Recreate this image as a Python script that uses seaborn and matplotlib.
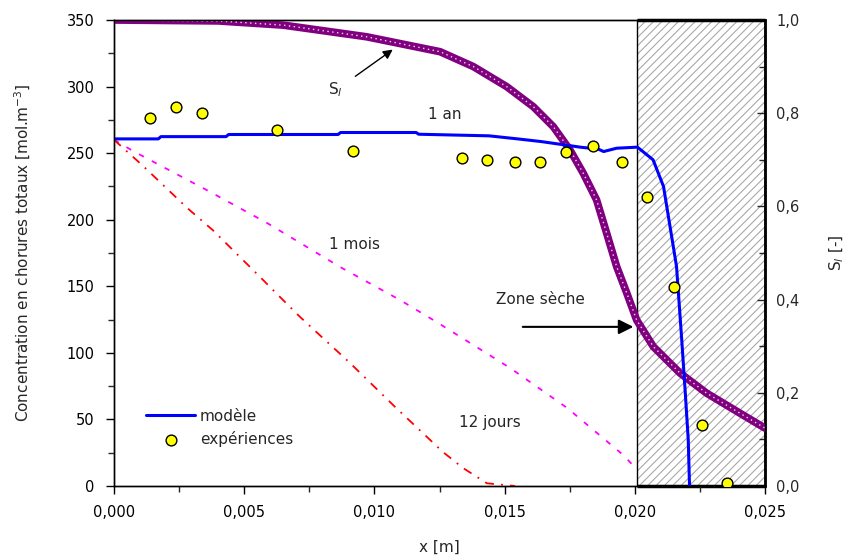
import matplotlib
matplotlib.use("Agg")
import matplotlib.pyplot as plt
from matplotlib.patches import Rectangle
from matplotlib.ticker import FuncFormatter, MultipleLocator
import seaborn as sns
import pandas as pd

# ---- data ----
x_model = [0.0, 0.0017, 0.0018, 0.0043, 0.0044, 0.0086, 0.0087, 0.0116, 0.0117,
           0.0144, 0.0155, 0.0164, 0.0173, 0.0179, 0.0186, 0.0188, 0.0193, 0.0201,
           0.0207, 0.0211, 0.02135, 0.0216, 0.0218, 0.02193, 0.02205, 0.0221]
c_model = [260.7, 260.7, 262.4, 262.4, 264.0, 264.0, 265.5, 265.5, 264.2,
           263.0, 260.7, 258.7, 256.2, 254.5, 253.0, 251.2, 253.7, 254.5,
           245.0, 225.0, 195.0, 165.0, 110.0, 72.0, 35.0, 0.0]

x_exp = [0.00138, 0.00238, 0.00338, 0.00626, 0.00918, 0.01336, 0.01431, 0.0154,
         0.01636, 0.01736, 0.01841, 0.0195, 0.02046, 0.02152, 0.02257, 0.02354]
c_exp = [276.5, 284.7, 280.0, 267.5, 251.7, 246.4, 245.0, 243.2,
         243.2, 251.2, 255.4, 243.7, 216.9, 149.7, 45.8, 2.0]

x_mois = [0.0, 0.00073, 0.00369, 0.00587, 0.00868, 0.01098, 0.0124, 0.01521,
          0.0174, 0.01955, 0.0201]
c_mois = [260.0, 251.6, 220.9, 197.6, 164.5, 139.7, 123.0, 88.6, 58.6, 23.3, 12.0]

x_jours = [0.0, 0.00108, 0.0028, 0.0038, 0.00553, 0.00637, 0.00714, 0.00906,
           0.01079, 0.01263, 0.0134, 0.01432, 0.0154]
c_jours = [260.0, 241.0, 209.0, 192.0, 158.5, 142.0, 127.0, 92.4,
           59.4, 25.5, 13.5, 2.0, 0.0]

x_sl = [0.0, 0.004, 0.0065, 0.0097, 0.01252, 0.0138, 0.01508, 0.0161, 0.01687,
        0.01751, 0.01802, 0.01853, 0.01892, 0.0193, 0.01969, 0.02007, 0.02071,
        0.02174, 0.02276, 0.02404, 0.025]
s_l = [1.0, 0.998, 0.989, 0.964, 0.932, 0.900, 0.857, 0.814, 0.771,
       0.721, 0.671, 0.614, 0.542, 0.471, 0.414, 0.356, 0.299,
       0.242, 0.199, 0.156, 0.124]

dry_zone = (0.0201, 0.025)

# ---- figure ----
sns.set_style("ticks")
plt.rcParams['font.family'] = ['DejaVu Sans']
plt.rcParams['hatch.linewidth'] = 0.8

fig = plt.figure(figsize=(8.51, 5.56), dpi=100)
ax = fig.add_axes([0.134, 0.126, 0.765, 0.838])
ax2 = ax.twinx()
ax.set_zorder(ax2.get_zorder() + 1)
ax.patch.set_visible(False)

ax.set_xlim(0, 0.025)
ax.set_ylim(0, 350)
ax2.set_ylim(0, 1.0)

# dry zone hatch
ax2.add_patch(Rectangle((dry_zone[0], 0), dry_zone[1] - dry_zone[0], 1.0,
                        facecolor='white', edgecolor='#a8a8a8', hatch='////',
                        lw=0, zorder=0))
ax2.add_patch(Rectangle((dry_zone[0], 0), dry_zone[1] - dry_zone[0], 1.0,
                        fill=False, edgecolor='black', lw=1.0, zorder=1))
ax2.plot([dry_zone[0], dry_zone[1]], [1.0, 1.0], color='black', lw=2.5,
         zorder=1, solid_capstyle='butt', clip_on=False)
ax2.plot([dry_zone[0], dry_zone[1]], [0.0, 0.0], color='black', lw=2.5,
         zorder=1, solid_capstyle='butt', clip_on=False)

# Sl curve
df_sl = pd.DataFrame({'x': x_sl, 's': s_l})
sns.lineplot(data=df_sl, x='x', y='s', ax=ax2, color='#800080', lw=5.5,
             zorder=3, legend=False)
sns.lineplot(data=df_sl, x='x', y='s', ax=ax2, color='#f0d8f0', lw=1.0,
             linestyle=(0, (1, 2.5)), zorder=4, legend=False)

# concentration curves
df_m = pd.DataFrame({'x': x_mois, 'c': c_mois})
sns.lineplot(data=df_m, x='x', y='c', ax=ax, color='#ff00ff', lw=1.3,
             linestyle=(0, (3, 5)), legend=False)
df_j = pd.DataFrame({'x': x_jours, 'c': c_jours})
sns.lineplot(data=df_j, x='x', y='c', ax=ax, color='#ff0000', lw=1.3,
             linestyle=(0, (5, 4, 1, 4)), legend=False)
df_mod = pd.DataFrame({'x': x_model, 'c': c_model})
sns.lineplot(data=df_mod, x='x', y='c', ax=ax, color='#0000ff', lw=2.2,
             label='modèle')
df_e = pd.DataFrame({'x': x_exp, 'c': c_exp})
sns.scatterplot(data=df_e, x='x', y='c', ax=ax, color='#ffff00',
                edgecolor='black', linewidth=1.0, s=60, marker='o',
                label='expériences', zorder=5)

# annotations
fs = 11
ax.text(0.01271, 278.7, '1 an', fontsize=fs, ha='center', va='center')
ax.text(0.00925, 181, '1 mois', fontsize=fs, ha='center', va='center')
ax.text(0.01444, 47.3, '12 jours', fontsize=fs, ha='center', va='center')
ax.text(0.01636, 139.7, 'Zone sèche', fontsize=fs, ha='center', va='center')
ax.text(0.00849, 297.5, 'S$_l$', fontsize=fs, ha='center', va='center')
ax.annotate('', xy=(0.01079, 329), xytext=(0.00918, 306.5),
            arrowprops=dict(arrowstyle='-|>', color='black', lw=1.0,
                            mutation_scale=14))
ax.annotate('', xy=(0.02005, 119.5), xytext=(0.01559, 119.5),
            arrowprops=dict(arrowstyle='-|>', color='black', lw=1.5,
                            mutation_scale=22))

# legend
leg = ax.legend(loc='lower left', bbox_to_anchor=(0.04, 0.07), frameon=False,
                fontsize=fs, handlelength=3.2, handletextpad=0.3,
                labelspacing=0.5, borderaxespad=0)

# axes formatting
ax.set_xlabel('x [m]', fontsize=fs, labelpad=14)
ax.set_ylabel('Concentration en chorures totaux [mol.m$^{-3}$]', fontsize=fs,
              labelpad=24)
ax2.set_ylabel('S$_l$ [-]', fontsize=fs, labelpad=20)
ax2.set_xlabel('')

ax.xaxis.set_major_locator(MultipleLocator(0.005))
ax.xaxis.set_minor_locator(MultipleLocator(0.0025))
ax.yaxis.set_major_locator(MultipleLocator(50))
ax.yaxis.set_minor_locator(MultipleLocator(25))
ax2.yaxis.set_major_locator(MultipleLocator(0.2))
ax2.yaxis.set_minor_locator(MultipleLocator(0.1))

ax.xaxis.set_major_formatter(FuncFormatter(lambda v, p: f"{v:.3f}".replace('.', ',')))
ax.yaxis.set_major_formatter(FuncFormatter(lambda v, p: f"{v:.0f}"))
ax2.yaxis.set_major_formatter(FuncFormatter(lambda v, p: f"{v:.1f}".replace('.', ',')))

ax.tick_params(axis='both', which='major', direction='out', length=6, width=1,
               labelsize=10.5, colors='black', pad=8)
ax.tick_params(axis='both', which='minor', direction='out', length=4, width=1)
ax2.tick_params(axis='y', which='major', direction='in', length=6, width=1,
                labelsize=10.5, pad=8)
ax2.tick_params(axis='y', which='minor', direction='in', length=4, width=1)

for sp in ax.spines.values():
    sp.set_linewidth(1.0)
    sp.set_color('black')
for sp in ax2.spines.values():
    sp.set_linewidth(1.0)
    sp.set_color('black')
ax2.spines['right'].set_linewidth(2.0)

fig.savefig('out.png', dpi=100)
